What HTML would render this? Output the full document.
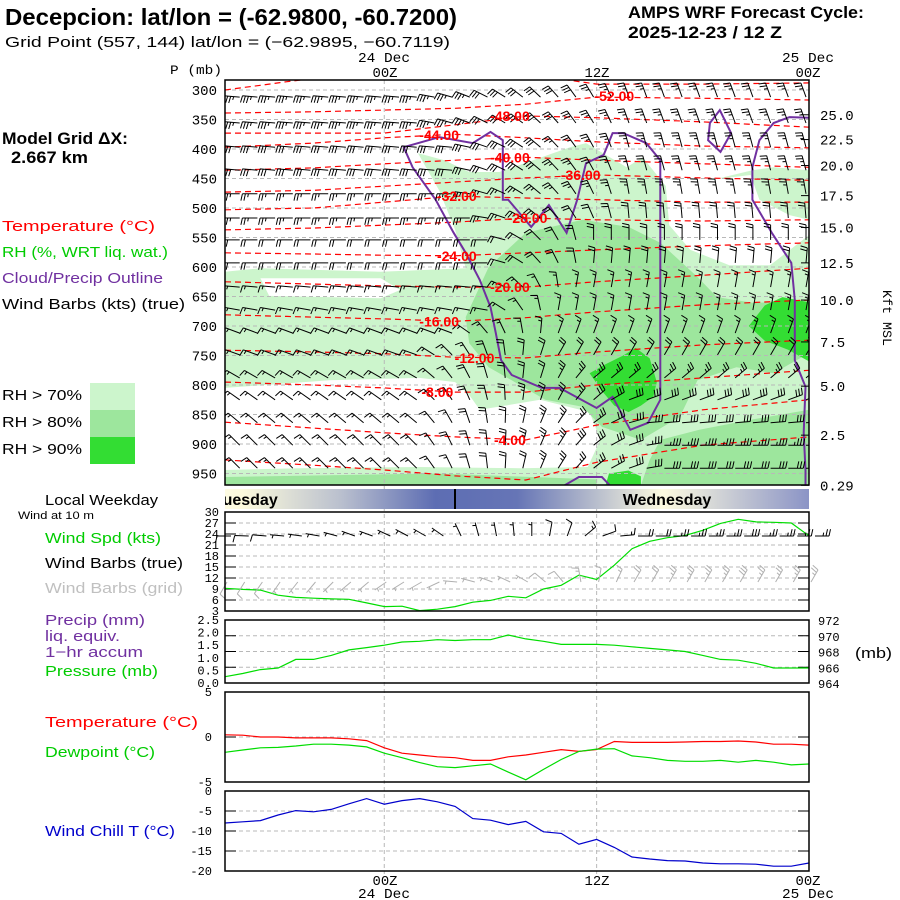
<!DOCTYPE html>
<html><head><meta charset="utf-8"><style>
html,body{margin:0;padding:0;background:#fff;}
svg{display:block;}
.t{font-family:"Liberation Sans",sans-serif;}
.m{font-family:"Liberation Mono",monospace;}
</style></head><body>
<svg id="chart" width="900" height="900" viewBox="0 0 900 900" xmlns="http://www.w3.org/2000/svg">
<defs>
<clipPath id="mainclip"><rect x="225" y="80" width="584" height="405"/></clipPath>
<linearGradient id="wkgrad" x1="225" x2="809" y1="0" y2="0" gradientUnits="userSpaceOnUse">
<stop offset="0" stop-color="#fdfbe2"/><stop offset="0.03" stop-color="#fcfadc"/><stop offset="0.2" stop-color="#b9bfce"/><stop offset="0.36" stop-color="#5d6db3"/><stop offset="0.5" stop-color="#6675b6"/><stop offset="0.75" stop-color="#fdfbe0"/><stop offset="1" stop-color="#8b94c6"/>
</linearGradient>
</defs>
<rect x="0" y="0" width="900" height="900" fill="#fff"/>

<text class="t" x="5" y="25" font-size="23" font-weight="bold" textLength="452" lengthAdjust="spacingAndGlyphs">Decepcion:  lat/lon = (-62.9800, -60.7200)</text>
<text class="t" x="5" y="47" font-size="15" textLength="445" lengthAdjust="spacingAndGlyphs">Grid Point (557, 144) lat/lon = (−62.9895, −60.7119)</text>
<text class="t" x="628" y="18" font-size="17" font-weight="bold" textLength="236" lengthAdjust="spacingAndGlyphs">AMPS WRF Forecast Cycle:</text>
<text class="t" x="628" y="38" font-size="17" font-weight="bold" textLength="154" lengthAdjust="spacingAndGlyphs">2025-12-23 / 12  Z</text>
<text class="t" x="2" y="144" font-size="17" font-weight="bold" textLength="126" lengthAdjust="spacingAndGlyphs">Model Grid ΔX:</text>
<text class="t" x="11" y="163" font-size="17" font-weight="bold" textLength="77" lengthAdjust="spacingAndGlyphs">2.667 km</text>

<text class="t" x="2" y="231" font-size="15" fill="#ff0000" textLength="153" lengthAdjust="spacingAndGlyphs">Temperature (°C)</text>
<text class="t" x="2" y="257" font-size="15" fill="#00cc00" textLength="166" lengthAdjust="spacingAndGlyphs">RH (%, WRT liq. wat.)</text>
<text class="t" x="2" y="283" font-size="15" fill="#7030a0" textLength="161" lengthAdjust="spacingAndGlyphs">Cloud/Precip Outline</text>
<text class="t" x="2" y="309" font-size="15" fill="#000" textLength="183" lengthAdjust="spacingAndGlyphs">Wind Barbs (kts) (true)</text>
<text class="t" x="2" y="400" font-size="15" textLength="80" lengthAdjust="spacingAndGlyphs">RH &gt; 70%</text>
<text class="t" x="2" y="427" font-size="15" textLength="80" lengthAdjust="spacingAndGlyphs">RH &gt; 80%</text>
<text class="t" x="2" y="454" font-size="15" textLength="80" lengthAdjust="spacingAndGlyphs">RH &gt; 90%</text>
<rect x="90" y="383" width="45" height="27" fill="#ccf5cc"/>
<rect x="90" y="410" width="45" height="27" fill="#9de69d"/>
<rect x="90" y="437" width="45" height="27" fill="#33dd33"/>

<text class="t" x="45" y="505" font-size="15" textLength="113" lengthAdjust="spacingAndGlyphs">Local Weekday</text>
<text class="t" x="18" y="519" font-size="11" textLength="76" lengthAdjust="spacingAndGlyphs">Wind at 10 m</text>
<text class="t" x="45" y="543" font-size="15" fill="#00cc00" textLength="116" lengthAdjust="spacingAndGlyphs">Wind Spd (kts)</text>
<text class="t" x="45" y="568" font-size="15" textLength="138" lengthAdjust="spacingAndGlyphs">Wind Barbs (true)</text>
<text class="t" x="45" y="593" font-size="15" fill="#c0c0c0" textLength="138" lengthAdjust="spacingAndGlyphs">Wind Barbs (grid)</text>
<text class="t" x="45" y="625" font-size="15" fill="#7030a0" textLength="100" lengthAdjust="spacingAndGlyphs">Precip (mm)</text>
<text class="t" x="45" y="641" font-size="15" fill="#7030a0" textLength="75" lengthAdjust="spacingAndGlyphs">liq. equiv.</text>
<text class="t" x="45" y="657" font-size="15" fill="#7030a0" textLength="98" lengthAdjust="spacingAndGlyphs">1−hr accum</text>
<text class="t" x="45" y="676" font-size="15" fill="#00cc00" textLength="113" lengthAdjust="spacingAndGlyphs">Pressure (mb)</text>
<text class="t" x="45" y="727" font-size="15" fill="#ff0000" textLength="153" lengthAdjust="spacingAndGlyphs">Temperature (°C)</text>
<text class="t" x="45" y="757" font-size="15" fill="#00cc00" textLength="110" lengthAdjust="spacingAndGlyphs">Dewpoint (°C)</text>
<text class="t" x="45" y="836" font-size="15" fill="#0000cc" textLength="130" lengthAdjust="spacingAndGlyphs">Wind Chill T (°C)</text>

<text class="m" x="170" y="74" font-size="13" textLength="52" lengthAdjust="spacingAndGlyphs">P (mb)</text>
<text class="m" x="384" y="62" font-size="14" text-anchor="middle" textLength="52" lengthAdjust="spacingAndGlyphs">24 Dec</text>
<text class="m" x="385" y="77" font-size="14" text-anchor="middle" textLength="25" lengthAdjust="spacingAndGlyphs">00Z</text>
<text class="m" x="597" y="77" font-size="14" text-anchor="middle" textLength="25" lengthAdjust="spacingAndGlyphs">12Z</text>
<text class="m" x="808" y="62" font-size="14" text-anchor="middle" textLength="52" lengthAdjust="spacingAndGlyphs">25 Dec</text>
<text class="m" x="808" y="77" font-size="14" text-anchor="middle" textLength="25" lengthAdjust="spacingAndGlyphs">00Z</text>
<text class="m" x="385" y="885" font-size="14" text-anchor="middle" textLength="25" lengthAdjust="spacingAndGlyphs">00Z</text>
<text class="m" x="384" y="898" font-size="14" text-anchor="middle" textLength="52" lengthAdjust="spacingAndGlyphs">24 Dec</text>
<text class="m" x="597" y="885" font-size="14" text-anchor="middle" textLength="25" lengthAdjust="spacingAndGlyphs">12Z</text>
<text class="m" x="808" y="885" font-size="14" text-anchor="middle" textLength="25" lengthAdjust="spacingAndGlyphs">00Z</text>
<text class="m" x="808" y="898" font-size="14" text-anchor="middle" textLength="52" lengthAdjust="spacingAndGlyphs">25 Dec</text>
<text class="m" x="0" y="0" font-size="13" transform="translate(883,290) rotate(90)" textLength="56" lengthAdjust="spacingAndGlyphs">Kft MSL</text>
<text class="t" x="855" y="658" font-size="15" textLength="37" lengthAdjust="spacingAndGlyphs">(mb)</text>

<g id="rhLayer" clip-path="url(#mainclip)"></g>
<g id="gridLayer"></g>
<g id="contourLayer" clip-path="url(#mainclip)"></g>
<g id="cloudLayer" clip-path="url(#mainclip)"></g>
<g id="barbLayer" clip-path="url(#mainclip)"></g>
<g id="labelLayer"></g>
<g id="lowerLayer"></g>
<g id="axisLayer"></g>
</svg>
<script>
// ---------- data ----------
const hours = [-9,-8,-7,-6,-5,-4,-3,-2,-1,0,1,2,3,4,5,6,7,8,9,10,11,12,13,14,15,16,17,18,19,20,21,22,23,24];
const windSpeed = [9.2,8.9,8.7,7.3,6.7,6.5,6.3,6.2,5.2,4.2,4.3,3.1,3.5,4.2,5.4,5.9,7.0,6.6,9.0,10,12.8,11.6,15.5,20,22,23,23.6,25,26.9,28,27.3,27.2,27,23.5];
const windDir10m = [180,182,185,185,188,190,195,200,200,205,208,210,215,245,255,260,265,270,280,290,320,340,355,360,360,360,360,360,360,360,360,360,360,360];
const pressure = [964.8,965.2,965.7,965.9,967.0,967.0,967.5,968.2,968.5,968.8,969.2,969.3,969.5,969.4,969.5,969.5,970.1,969.6,969.3,968.9,968.9,968.9,968.8,968.6,968.4,968.2,968.0,967.5,967.0,966.9,966.5,965.9,965.9,965.9];
const temperature = [0.25,0.2,0,0,-0.1,-0.1,-0.1,-0.2,-0.4,-1.2,-1.8,-2.0,-2.2,-2.3,-2.6,-2.6,-2.2,-2.0,-1.7,-1.4,-1.6,-1.4,-0.5,-0.6,-0.6,-0.6,-0.55,-0.5,-0.5,-0.45,-0.55,-0.8,-0.8,-0.9];
const dewpoint = [-1.7,-1.45,-1.2,-1.15,-1.0,-0.8,-0.8,-0.9,-1.1,-1.8,-2.3,-2.85,-3.3,-3.4,-3.2,-3.0,-3.9,-4.75,-3.6,-2.5,-1.6,-1.35,-1.3,-2.1,-2.3,-2.6,-2.7,-2.7,-2.6,-2.8,-2.6,-2.8,-3.1,-3.0];
const windChill = [-8,-7.7,-7.4,-6,-4.9,-5.2,-4.6,-3.2,-1.9,-3.3,-2.4,-1.9,-2.7,-3.85,-6.9,-7.3,-8.4,-7.6,-10.2,-10.6,-13.3,-12.1,-14.1,-16.5,-17,-17.4,-17.5,-18,-18.2,-18.2,-18.3,-18.8,-18.8,-18];

const pressureTicks = [300,350,400,450,500,550,600,650,700,750,800,850,900,950];
const kftLabels = ['25.0','22.5','20.0','17.5','15.0','12.5','10.0','7.5','5.0','2.5','0.29'];
const kftP = [342,384,428,479,533,593,656,727,802,885,970];
const windTicks = [30,27,24,21,18,15,12,9,6,3];
const precipTicks = ['2.5','2.0','1.5','1.0','0.5','0.0'];
const pressTicks = [972,970,968,966,964];
const tempTicks = [5,0,-5];
const chillTicks = [0,-5,-10,-15,-20];

const contourHours = [-9,-4,0,4,8,12,18,24];
const contourValues = [-56,-52,-48,-44,-40,-36,-32,-28,-24,-20,-16,-12,-8,-4,0];
const contourP = [
 [300,280,273,273,273,290,290,288],
 [339,337,334,331,324,312,314,317],
 [373,373,373,359,344,347,354,363],
 [397,390,381,375,381,388,395,398],
 [436,432,425,419,414,419,425,431],
 [473,470,463,456,449,444,449,453],
 [503,500,490,480,483,486,490,490],
 [537,534,529,524,517,520,522,520],
 [576,578,580,581,576,571,564,559],
 [625,629,632,634,634,625,614,602],
 [681,685,688,692,686,676,664,656],
 [741,744,747,753,754,744,732,724],
 [795,800,805,812,812,800,788,775],
 [863,873,881,888,893,868,842,825],
 [927,936,944,954,961,931,902,888]
];
const contourLabelText = ['-52.00','-48.00','-44.00','-40.00','-36.00','-32.00','-28.00','-24.00','-20.00','-16.00','-12.00','-8.00','-4.00'];
const contourLabelH = [13,7.1,3.1,7.1,11.1,4.1,8.1,4.1,7.1,3.1,5.1,3.0,7.1];
const contourLabelP = [310,344,376,414,444,480,517,581,634,692,754,812,893];

const rhWhiteHoles = [
 [[-9,283],[24,283],[24,436],[22,431],[20.8,436],[16.1,470],[14.6,414],[13.7,431],[11.4,390],[10.5,397],[6.5,439],[4.8,439],[3.4,419],[1.9,407],[3.1,470],[4.0,537],[4.6,602],[-0.2,608],[-7,602],[-9,608]],
 [[15.9,461],[20.7,444],[21.2,486],[22.9,512],[24,520],[24,546],[21.8,597],[19.5,597],[17.3,571],[16.1,529]],
 [[-7,619],[-0.2,619],[0.9,639],[-0.2,653],[-6.5,649]],
 [[-9,805],[-3.1,792],[2.0,788],[4.0,795],[4.8,817],[5.4,842],[8.8,825],[11.6,846],[12.2,893],[11.5,939],[7.7,941],[2.0,939],[-4.8,941],[-9,944]]
];
const rh80Regions = [
 [[5.9,600],[8.0,542],[11.2,520],[13.8,532],[15.6,559],[17.7,617],[18.8,651],[20.9,661],[24,656],[24,746],[22.0,780],[19.9,770],[17.7,792],[16.7,854],[14.5,893],[12.3,871],[11.2,837],[9.1,825],[7.2,792],[5.9,770],[4.8,729],[4.6,685]],
 [[15.6,893],[17.8,876],[20.7,859],[24,842],[24,970],[14.5,970],[15.0,927]],
 [[-9,956],[3,950],[12,960],[12,970],[-9,970]]
];
const rh90Regions = [
 [[11.6,780],[12.5,765],[13.5,750],[14.2,737],[15.0,755],[15.4,795],[15.2,820],[14.5,835],[13.8,846],[13.0,835],[12.3,810]],
 [[20.6,700],[21.5,665],[22.5,651],[24,660],[24,760],[22.8,740],[21.5,725]],
 [[12.5,970],[12.7,950],[13.8,945],[14.5,955],[14.5,970]]
];
const cloudMain = [[1.1,397],[3.1,380],[5.0,390],[6.0,371],[6.7,385],[6.7,486],[7.0,486],[8.3,532],[9.3,495],[10.3,542],[10.9,486],[11.4,424],[12.4,410],[12.9,373],[13.5,373],[14.8,390],[15.6,419],[15.6,486],[15.6,825],[14.9,864],[13.9,876],[12.9,820],[12.0,839],[9.9,805],[8.9,805],[7.2,783],[6.6,758],[6.3,712],[6.0,668],[5.4,622],[4.6,576],[3.9,541],[2.9,486],[1.6,431]];
const cloudSmall = [[18.96,334],[19.6,373],[19.0,405],[18.3,385],[18.4,356]];
const cloudRight = [[24,347],[22.9,346],[22.0,356],[21.2,385],[20.8,431],[20.8,486],[21.9,542],[23.0,593],[23.2,656],[23.2,758],[23.8,803],[23.7,881],[23.8,944],[23.8,975]];
const cloudBottom = [[9.9,975],[11.0,956],[12.3,956],[12.9,975]];

const barbP = [312,356,397,436,476,517,554,593,634,673,712,749,788,825,864,902,941];
const barbDirEarly = [185,185,185,185,180,180,180,180,185,190,200,200,210,215,220,225,225];
const barbDirLate = [250,250,255,255,260,265,270,275,280,280,290,300,320,340,355,360,360];
const barbTurnStart = [2,2,4,4,4,5,6,6,6,6,4,2,2,2,2,2,2];
const barbTurnEnd = [14,14,14,14,14,14,12,12,11,10,10,10,12,14,15,16,16];
const barbSpdEarly = [35,35,30,30,25,25,20,20,15,15,15,15,15,15,15,15,15];
const barbSpdLate = [25,25,25,25,25,20,20,20,15,15,15,20,25,30,30,35,30];

// ---------- helpers ----------
const NS='http://www.w3.org/2000/svg';
function mk(tag,attrs,parent){const e=document.createElementNS(NS,tag);for(const k in attrs)e.setAttribute(k,attrs[k]);parent.appendChild(e);return e;}
const X0=225,X1=809;
function xH(h){return X0+(h+9)*(X1-X0)/33;}
function yP(p){return 90+(p-300)*0.59;}
const yWind=v=>611-(v-3)*(99/27);
const yPres=v=>683-(v-964)*(63/8);
const yPrecip=v=>683-v*(63/2.5);
const yTemp=v=>737-v*9;
const yChill=v=>791-v*4;
function ptsHP(arr){return arr.map(q=>xH(q[0]).toFixed(1)+','+yP(q[1]).toFixed(1)).join(' ');}
function interp(xs,ys,x){if(x<=xs[0])return ys[0];for(let i=1;i<xs.length;i++){if(x<=xs[i]){const t=(x-xs[i-1])/(xs[i]-xs[i-1]);return ys[i-1]+t*(ys[i]-ys[i-1]);}}return ys[ys.length-1];}

const rhL=document.getElementById('rhLayer');
const gridL=document.getElementById('gridLayer');
const conL=document.getElementById('contourLayer');
const cloudL=document.getElementById('cloudLayer');
const barbL=document.getElementById('barbLayer');
const labL=document.getElementById('labelLayer');
const lowL=document.getElementById('lowerLayer');
const axL=document.getElementById('axisLayer');

// ---------- RH fill ----------
let bg=mk('polygon',{points:ptsHP([[-9,283],[24,283],[24,975],[-9,975]]),fill:'#ccf5cc'},rhL);


rhWhiteHoles.forEach(r=>{const e=mk('polygon',{points:ptsHP(r),fill:'#ffffff'},rhL);

});
rh80Regions.forEach(r=>{const e=mk('polygon',{points:ptsHP(r),fill:'#9de69d'},rhL);

});
rh90Regions.forEach(r=>{const e=mk('polygon',{points:ptsHP(r),fill:'#33dd33'},rhL);

});

// ---------- grids ----------
pressureTicks.forEach(p=>{const e=mk('line',{x1:X0,x2:X1,y1:yP(p),y2:yP(p),stroke:'#b8b8b8','stroke-dasharray':'4,3'},gridL);

});
[0,12].forEach(h=>{const e=mk('line',{x1:xH(h),x2:xH(h),y1:80,y2:874,stroke:'#b8b8b8','stroke-dasharray':'4,3'},gridL);

});

// ---------- temperature contours ----------
contourP.forEach((row,i)=>{
  let d='';for(let h=-9;h<=24;h+=0.5){const p=interp(contourHours,row,h);d+=(d?'L':'M')+xH(h).toFixed(1)+','+yP(p).toFixed(1);}
  const e=mk('path',{d:d,fill:'none',stroke:'#ff0000','stroke-width':1.2,'stroke-dasharray':'6,4'},conL);
  
  
});
contourLabelText.forEach((t,i)=>{
  const e=mk('text',{x:xH(contourLabelH[i]),y:yP(contourLabelP[i])+5,'text-anchor':'middle','font-size':14,'font-weight':'bold',fill:'#ff0000','font-family':'Liberation Sans, sans-serif'},labL);
  e.textContent=t;
  
  
});

// ---------- cloud outline ----------
[[cloudMain,true],[cloudSmall,true],[cloudRight,false],[cloudBottom,false]].forEach(c=>{
  const e=mk(c[1]?'polygon':'polyline',{points:ptsHP(c[0]),fill:'none',stroke:'#7030a0','stroke-width':2},cloudL);
  
  
});

// ---------- barbs ----------
function barb(parent,x,y,ang,spd,len,color,name){
  const a=ang*Math.PI/180, fa=(ang-78)*Math.PI/180;
  const ex=x+len*Math.cos(a), ey=y+len*Math.sin(a);
  let d='M'+x.toFixed(1)+','+y.toFixed(1)+'L'+ex.toFixed(1)+','+ey.toFixed(1);
  let s=Math.round(spd/5)*5, pos=0; const fl=7;
  while(s>=10){const px=ex-pos*Math.cos(a),py=ey-pos*Math.sin(a);d+='M'+px.toFixed(1)+','+py.toFixed(1)+'l'+(fl*Math.cos(fa)).toFixed(1)+','+(fl*Math.sin(fa)).toFixed(1);pos+=3;s-=10;}
  if(s>=5){if(pos===0)pos=3;const px=ex-pos*Math.cos(a),py=ey-pos*Math.sin(a);d+='M'+px.toFixed(1)+','+py.toFixed(1)+'l'+(fl*0.5*Math.cos(fa)).toFixed(1)+','+(fl*0.5*Math.sin(fa)).toFixed(1);}
  const e=mk('path',{d:d,fill:'none',stroke:color,'stroke-width':1},parent);
  
  
}
barbP.forEach((p,i)=>{
  hours.forEach(h=>{
    if(h<-8)return;
    const t=Math.max(0,Math.min(1,(h-barbTurnStart[i])/(barbTurnEnd[i]-barbTurnStart[i])));
    const ang=barbDirEarly[i]+t*(barbDirLate[i]-barbDirEarly[i]);
    const spd=barbSpdEarly[i]+t*(barbSpdLate[i]-barbSpdEarly[i]);
    barb(barbL,xH(h)-3,yP(p),ang,spd,15,'#000','profile-wind-barb');
  });
});

// ---------- main panel frame & axes ----------
let fr=mk('rect',{x:X0,y:80,width:X1-X0,height:405,fill:'none',stroke:'#000','stroke-width':1.5},axL);


pressureTicks.forEach(p=>{const e=mk('text',{x:217,y:yP(p)+5,'text-anchor':'end','font-size':14,'font-family':'Liberation Mono, monospace'},axL);e.textContent=p;

});
kftLabels.forEach((k,i)=>{const e=mk('text',{x:820,y:yP(kftP[i])+5,'font-size':14,'font-family':'Liberation Mono, monospace'},axL);e.textContent=k;


const tk=mk('line',{x1:X1-8,x2:X1,y1:yP(kftP[i]),y2:yP(kftP[i]),stroke:'#000'},axL);

});

// ---------- weekday bar ----------
let wk=mk('rect',{x:X0,y:489,width:X1-X0,height:20,fill:'url(#wkgrad)'},lowL);


let wl=mk('line',{x1:455,x2:455,y1:489,y2:509,stroke:'#000','stroke-width':2},lowL);


let tu=mk('text',{x:214,y:505,'font-size':16,'font-weight':'bold','font-family':'Liberation Sans, sans-serif'},lowL);
tu.textContent='Tuesday';


let cover=mk('rect',{x:190,y:488,width:35,height:22,fill:'#fff'},lowL);


let we=mk('text',{x:667,y:505,'text-anchor':'middle','font-size':16,'font-weight':'bold','font-family':'Liberation Sans, sans-serif'},lowL);
we.textContent='Wednesday';



// ---------- lower panel frames ----------
function panel(y0,y1,name){const e=mk('rect',{x:X0,y:y0,width:X1-X0,height:y1-y0,fill:'none',stroke:'#000','stroke-width':1.5},lowL);

}
function hgrid(y,name){const e=mk('line',{x1:X0,x2:X1,y1:y,y2:y,stroke:'#b8b8b8','stroke-dasharray':'4,3'},lowL);


const t1=mk('line',{x1:X0,x2:X0+11,y1:y,y2:y,stroke:'#000'},lowL);


const t2=mk('line',{x1:X1-11,x2:X1,y1:y,y2:y,stroke:'#000'},lowL);

}
function tlabel(x,y,txt,anchor,size,name){const e=mk('text',{x:x,y:y,'text-anchor':anchor,'font-size':size,'font-family':'Liberation Mono, monospace'},lowL);e.textContent=txt;

}

windTicks.forEach(v=>{if(v<30&&v>3)hgrid(yWind(v),'wind-gridline');tlabel(219,yWind(v)+4,v,'end',12,'wind-tick-label');});
pressTicks.forEach(v=>{if(v<972&&v>964)hgrid(yPres(v),'pressure-gridline');tlabel(818,yPres(v)+5,v,'start',12,'pressure-tick-label');});
precipTicks.forEach(v=>{tlabel(219,yPrecip(+v)+4,v,'end',12,'precip-tick-label');});
tempTicks.forEach(v=>{if(v===0)hgrid(yTemp(v),'temp-gridline');tlabel(212,yTemp(v)+4,v,'end',12,'temp-tick-label');});
chillTicks.forEach(v=>{if(v<0&&v>-20)hgrid(yChill(v),'chill-gridline');tlabel(212,yChill(v)+4,v,'end',12,'chill-tick-label');});

function series(vals,yf,color,name){const pts=vals.map((v,i)=>xH(hours[i]).toFixed(1)+','+yf(v).toFixed(1)).join(' ');
const e=mk('polyline',{points:pts,fill:'none',stroke:color,'stroke-width':1.2},lowL);

}
series(windSpeed,yWind,'#00dd00','wind-speed-line');
series(pressure,yPres,'#00dd00','pressure-line');
series(temperature,yTemp,'#ff0000','temperature-line');
series(dewpoint,yTemp,'#00dd00','dewpoint-line');
series(windChill,yChill,'#0000cc','wind-chill-line');

hours.forEach((h,i)=>{
  barb(lowL,xH(h)+6,536,windDir10m[i],windSpeed[i],14,'#000','surface-barb-true');
  barb(lowL,xH(h)+2,582,windDir10m[i]-60,windSpeed[i],14,'#b0b0b0','surface-barb-grid');
});

panel(512,611,'wind-panel-frame');
panel(620,683,'pressure-panel-frame');
panel(692,782,'temperature-panel-frame');
panel(791,871,'wind-chill-panel-frame');
</script>
</body></html>
